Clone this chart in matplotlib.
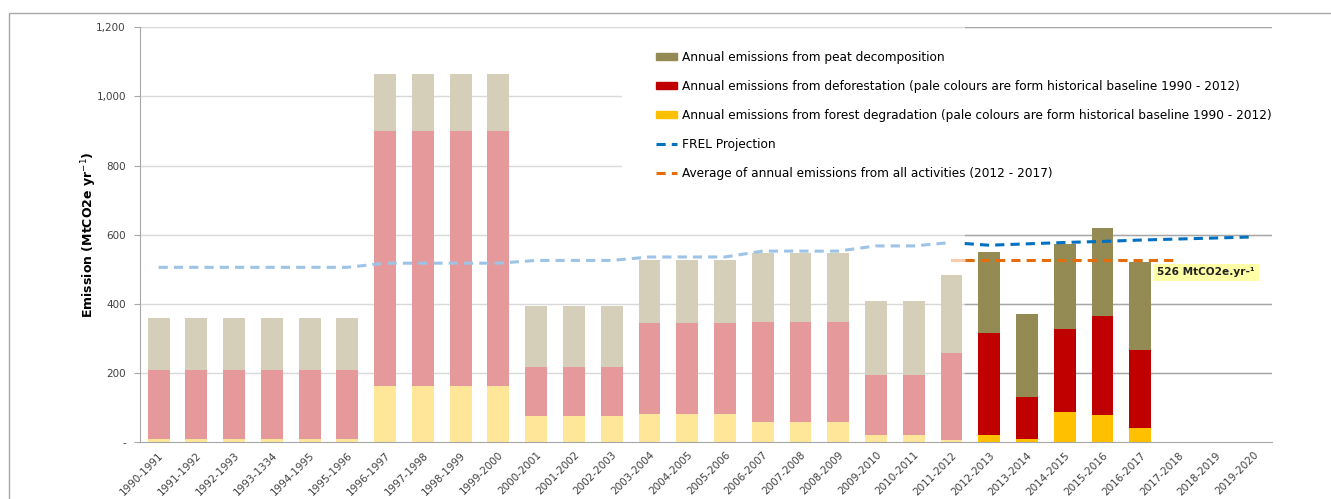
import matplotlib.pyplot as plt
from matplotlib.patches import Patch, Rectangle
from matplotlib.lines import Line2D
import numpy as np

periods = ["1990-1991", "1991-1992", "1992-1993", "1993-1334", "1994-1995", "1995-1996",
           "1996-1997", "1997-1998", "1998-1999", "1999-2000", "2000-2001", "2001-2002",
           "2002-2003", "2003-2004", "2004-2005", "2005-2006", "2006-2007", "2007-2008",
           "2008-2009", "2009-2010", "2010-2011", "2011-2012", "2012-2013", "2013-2014",
           "2014-2015", "2015-2016", "2016-2017", "2017-2018", "2018-2019", "2019-2020"]

# historical baseline 1990 - 2012 (22 periods)
base_degradation = [7, 7, 7, 7, 7, 7, 162, 162, 162, 162, 74, 74, 74, 79, 79, 79,
                    58, 58, 58, 19, 19, 5]
base_deforestation = [200, 200, 200, 200, 200, 200, 738, 738, 738, 738, 142, 142, 142,
                      266, 266, 266, 289, 289, 289, 174, 174, 252]
base_peat = [150, 150, 150, 150, 150, 150, 165, 165, 165, 165, 176, 176, 176, 182, 182, 182,
             200, 200, 200, 214, 214, 225]

# monitoring period 2012 - 2017 (5 periods)
mon_degradation = [20, 8, 86, 78, 40]
mon_deforestation = [296, 120, 239, 285, 224]
mon_peat = [234, 241, 249, 256, 257]

frel_hist = [505, 505, 505, 505, 505, 505, 517, 517, 517, 517, 525, 525, 525, 535, 535, 535,
             552, 552, 552, 567, 567, 577]
frel_proj = [569, 573, 577, 580, 584, 587, 590, 593]   # 2012-2013 .. 2019-2020
avg_2012_2017 = 526

x = np.arange(len(periods))
xb = x[:22]
xm = x[22:27]
w = 0.58

fig = plt.figure(figsize=(13.31, 4.99), dpi=100)
ax = fig.add_axes([0.105, 0.115, 0.851, 0.83])

# grid
for v in range(200, 1201, 200):
    ax.axhline(v, color='#D9D9D9', lw=1, zorder=0)
    ax.axhline(v, xmin=(21.35 + 0.5) / 30, xmax=1, color='#A6A6A6', lw=1, zorder=0)

# white legend area hides the grid behind it
ax.add_patch(Rectangle((0.467, 0.609), 0.533, 0.327, transform=fig.transFigure,
                       fc='white', ec='none', zorder=1, clip_on=False))

# pale (historical) bars
ax.bar(xb, base_degradation, w, color='#FFE699', zorder=2)
ax.bar(xb, base_deforestation, w, bottom=base_degradation, color='#E6999A', zorder=2)
b2 = np.array(base_degradation) + np.array(base_deforestation)
ax.bar(xb, base_peat, w, bottom=b2, color='#D5CFBA', zorder=2)

# monitoring bars
ax.bar(xm, mon_degradation, w, color='#FFC000', zorder=2)
ax.bar(xm, mon_deforestation, w, bottom=mon_degradation, color='#C00000', zorder=2)
m2 = np.array(mon_degradation) + np.array(mon_deforestation)
ax.bar(xm, mon_peat, w, bottom=m2, color='#948A54', zorder=2)

# FREL lines
ax.plot(xb, frel_hist, color='#9DC3E6', lw=2.2, ls=(0, (3, 2)), zorder=3)
ax.plot(np.r_[21.35, x[22:]], [574] + frel_proj, color='#0070C0', lw=2.2,
        ls=(0, (3, 2)), zorder=3)

# average line
ax.plot([21, 21.35], [avg_2012_2017, avg_2012_2017], color='#F8CBAD', lw=2.2, zorder=3)
ax.plot([21.35, 27], [avg_2012_2017, avg_2012_2017], color='#E46C0A', lw=2.2,
        ls=(0, (3, 2)), zorder=3)
ax.text(26.45, 490, "526 MtCO2e.yr-\u00b9", fontsize=7.6, fontweight='bold', color='#222222',
        va='center', ha='left',
        bbox=dict(boxstyle='square,pad=0.35', fc='#FFFF99', ec='none', alpha=0.85), zorder=4)

ax.set_xlim(-0.5, 29.5)
ax.set_ylim(0, 1200)
ax.set_xticks(x)
ax.set_xticklabels(periods, rotation=45, ha='right', rotation_mode='anchor',
                   fontsize=7.5, color='#404040')
ax.set_yticks(range(0, 1201, 200))
ax.set_yticklabels(['-', '200', '400', '600', '800', '1,000', '1,200'],
                   fontsize=7.5, color='#404040')
ax.tick_params(axis='x', length=0, pad=6)
ax.tick_params(axis='y', length=4, color='#A6A6A6', pad=6)
for s in ['top', 'right']:
    ax.spines[s].set_visible(False)
ax.spines['left'].set_color('#A6A6A6')
ax.spines['bottom'].set_color('#A6A6A6')
ax.set_ylabel("Emission (MtCO2e yr$^{-1}$)", fontsize=9, fontweight='bold', labelpad=-2)

handles = [
    Patch(color='#948A54'),
    Patch(color='#C00000'),
    Patch(color='#FFC000'),
    Line2D([], [], color='#0070C0', lw=2.2, ls=(0, (3, 2))),
    Line2D([], [], color='#E46C0A', lw=2.2, ls=(0, (3, 2))),
]
labels = [
    "Annual emissions from peat decomposition",
    "Annual emissions from deforestation (pale colours are form historical baseline 1990 - 2012)",
    "Annual emissions from forest degradation (pale colours are form historical baseline 1990 - 2012)",
    "FREL Projection",
    "Average of annual emissions from all activities (2012 - 2017)",
]
fig.legend(handles, labels, loc='upper left', bbox_to_anchor=(0.489, 0.908), frameon=False,
           fontsize=8.7, handlelength=1.8, handleheight=0.55, handletextpad=0.35,
           labelspacing=1.33, borderaxespad=0)

# outer chart frame
fig.patches.append(Rectangle((0.007, -0.01), 1.0, 0.984, transform=fig.transFigure,
                             fill=False, ec='#A6A6A6', lw=1))

fig.savefig("out.png", dpi=100)
